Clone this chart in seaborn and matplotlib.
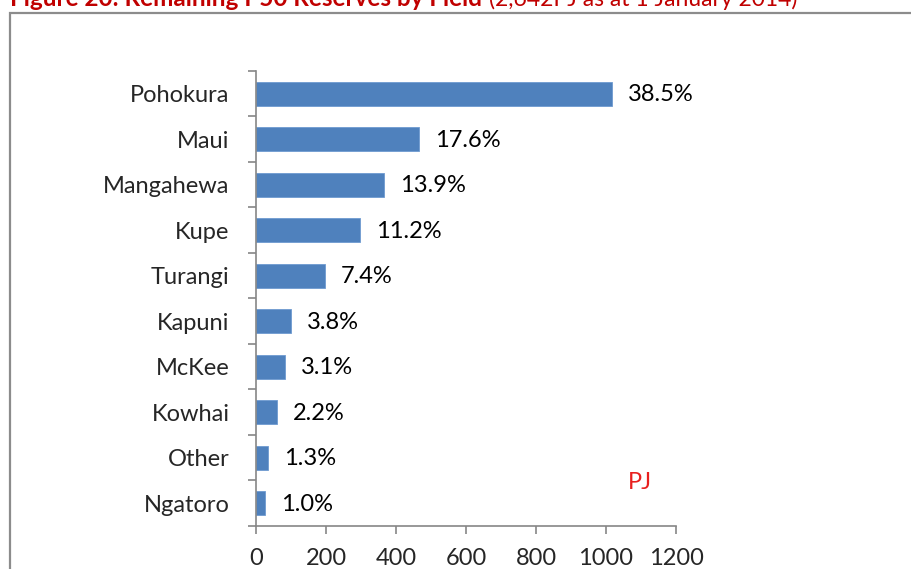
import matplotlib
matplotlib.use("Agg")
import matplotlib.pyplot as plt
from matplotlib.patches import Rectangle
from matplotlib.ticker import FixedLocator
import pandas as pd
import seaborn as sns

# --- data (PJ) ---
fields = ["Pohokura", "Maui", "Mangahewa", "Kupe", "Turangi",
          "Kapuni", "McKee", "Kowhai", "Other", "Ngatoro"]
reserves_pj = [1017, 466, 367, 297, 196, 101, 82, 59, 35, 27]
share_labels = ["38.5%", "17.6%", "13.9%", "11.2%", "7.4%",
                "3.8%", "3.1%", "2.2%", "1.3%", "1.0%"]
x_ticks = [0, 200, 400, 600, 800, 1000, 1200]

df = pd.DataFrame({"field": fields, "pj": reserves_pj})

sns.set_theme(style="white")
plt.rcParams["font.family"] = ["Lato", "DejaVu Sans"]

fig = plt.figure(figsize=(9.12, 5.69), dpi=100)
ax = fig.add_axes([256 / 912, 1 - 526 / 569, 420 / 912, (526 - 71) / 569])

bar_blue = "#4F81BD"
fs = 17
sns.barplot(data=df, x="pj", y="field", orient="h", color=bar_blue,
            saturation=1, width=0.53, edgecolor="#6F9AD0", linewidth=0.6, ax=ax)

# percentage labels right of the bars
for i, (v, lab) in enumerate(zip(reserves_pj, share_labels)):
    ax.annotate(lab, (v, i), xytext=(11.5, -0.7), textcoords="offset points",
                va="center", ha="left", fontsize=fs, color="black")

ax.set_xlim(0, 1200)
ax.set_ylim(len(fields) - 0.5, -0.5)
ax.xaxis.set_major_locator(FixedLocator(x_ticks))
ax.set_xticklabels([str(t) for t in x_ticks])
ax.yaxis.set_minor_locator(FixedLocator([i - 0.5 for i in range(len(fields) + 1)]))

ax.set_xlabel("")
ax.set_ylabel("")
axis_grey = "#868686"
for side in ["top", "right"]:
    ax.spines[side].set_visible(False)
for side in ["left", "bottom"]:
    ax.spines[side].set_color(axis_grey)
    ax.spines[side].set_linewidth(1.2)

ax.tick_params(axis="x", which="major", direction="out", length=6, width=1.2,
               color=axis_grey, labelsize=fs, pad=10, bottom=True)
ax.tick_params(axis="y", which="major", length=0, labelsize=fs, pad=19)
ax.tick_params(axis="y", which="minor", direction="out", length=6, width=1.2,
               color=axis_grey, left=True)

ax.text(1097, 8.55, "PJ", color="#E8201E", fontsize=fs, ha="center", va="center")

# outer frame around the chart area
fig.patches.append(Rectangle((10 / 912, -0.1), 1.2, 1 - 13 / 569 + 0.1,
                             transform=fig.transFigure, fill=False,
                             edgecolor="#8C8C8C", linewidth=1.6))

# figure caption, clipped at the top edge like the source
red = "#C00000"
t1 = fig.text(10 / 912, 1 - 6 / 569, "Figure 20: Remaining P50 Reserves by Field",
              color=red, fontsize=17.5, fontweight="bold", ha="left", va="baseline")
fig.canvas.draw()
bb = t1.get_window_extent(renderer=fig.canvas.get_renderer())
fig.text((bb.x1 + 7) / 912, 1 - 6 / 569, "(2,642PJ as at 1 January 2014)",
         color=red, fontsize=16.5, ha="left", va="baseline")

fig.savefig("out.png", dpi=100)
